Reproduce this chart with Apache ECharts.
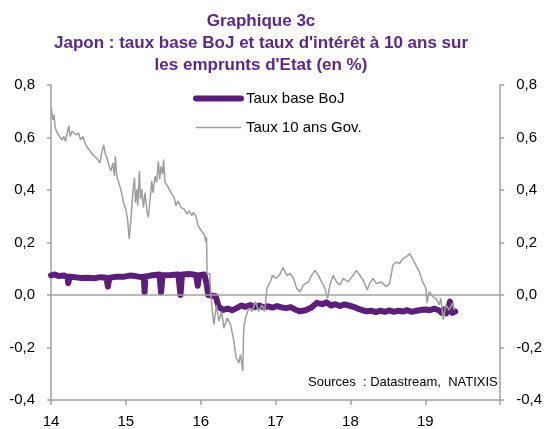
<!DOCTYPE html>
<html>
<head>
<meta charset="utf-8">
<script src="https://cdn.jsdelivr.net/npm/echarts@6/dist/echarts.min.js"></script>
<style>
  html, body { margin: 0; padding: 0; background: #fff; }
  #chart { width: 545px; height: 429px; }
</style>
</head>
<body>
<div id="chart"></div>
<script>
// x values are years (14 = 2014)
var xTicks = [14, 15, 16, 17, 18, 19, 20]

var bojYears = [14.00, 14.05, 14.10, 14.18, 14.22, 14.23, 14.25, 14.32, 14.40, 14.50, 14.58, 14.66, 14.74, 14.76, 14.78,
  14.88, 14.98, 15.05, 15.13, 15.20, 15.24, 15.25, 15.26, 15.35, 15.45, 15.47, 15.49, 15.60, 15.70, 15.73, 15.75,
  15.85, 15.94, 15.96, 15.98, 16.05, 16.08, 16.10, 16.20, 16.24, 16.30, 16.36, 16.42, 16.48, 16.54, 16.60, 16.66,
  16.72, 16.78, 16.84, 16.90, 16.96, 17.02, 17.08, 17.14, 17.20, 17.26, 17.32, 17.40, 17.48, 17.55, 17.62, 17.68,
  17.74, 17.80, 17.86, 17.92, 17.98, 18.04, 18.10, 18.16, 18.22, 18.28, 18.34, 18.40, 18.46, 18.52, 18.58, 18.64,
  18.70, 18.76, 18.82, 18.88, 18.94, 19.00, 19.06, 19.12, 19.18, 19.22, 19.25, 19.28, 19.30, 19.33, 19.36, 19.40]
var bojRates = [0.075, 0.078, 0.072, 0.074, 0.068, 0.045, 0.070, 0.068, 0.065, 0.066, 0.064, 0.068, 0.066, 0.032, 0.066,
  0.070, 0.070, 0.074, 0.072, 0.068, 0.070, 0.010, 0.070, 0.075, 0.078, 0.010, 0.075, 0.076, 0.078, 0.000, 0.078,
  0.080, 0.076, 0.035, 0.075, 0.078, 0.040, 0.000, -0.005, -0.045, -0.057, -0.052, -0.058, -0.050, -0.040, -0.045, -0.038,
  -0.046, -0.040, -0.047, -0.043, -0.048, -0.042, -0.047, -0.050, -0.046, -0.055, -0.062, -0.058, -0.048, -0.030, -0.035, -0.028,
  -0.040, -0.035, -0.042, -0.036, -0.040, -0.045, -0.052, -0.058, -0.062, -0.060, -0.065, -0.060, -0.064, -0.059, -0.064, -0.060,
  -0.063, -0.058, -0.064, -0.060, -0.057, -0.055, -0.058, -0.052, -0.058, -0.068, -0.055, -0.070, -0.060, -0.025, -0.068, -0.063]

var govYears = [14.004, 14.027, 14.040, 14.057, 14.084, 14.115, 14.146, 14.173, 14.195, 14.216, 14.239, 14.256,
  14.279, 14.305, 14.336, 14.368, 14.394, 14.425, 14.455, 14.491, 14.527, 14.558, 14.588, 14.624, 14.654, 14.677,
  14.704, 14.721, 14.747, 14.779, 14.800, 14.827, 14.846, 14.859, 14.876, 14.899, 14.925, 14.943, 14.969, 15.000,
  15.022, 15.045, 15.049, 15.071, 15.093, 15.115, 15.128, 15.146, 15.159, 15.181, 15.195, 15.212, 15.235, 15.257,
  15.284, 15.301, 15.328, 15.345, 15.363, 15.390, 15.411, 15.434, 15.451, 15.470, 15.491, 15.504, 15.523, 15.557,
  15.602, 15.646, 15.669, 15.699, 15.735, 15.779, 15.815, 15.845, 15.881, 15.902, 15.934, 15.965, 15.991, 16.022,
  16.054, 16.067, 16.078, 16.085, 16.120, 16.133, 16.155,
  16.177, 16.208, 16.243, 16.279, 16.310, 16.354, 16.399, 16.443, 16.473, 16.509, 16.532, 16.562, 16.575, 16.598,
  16.642, 16.685, 16.731, 16.774, 16.818, 16.854, 16.885, 16.930, 16.960, 17.004, 17.049, 17.100, 17.150, 17.195,
  17.239, 17.283, 17.328, 17.372, 17.438, 17.482, 17.527, 17.571, 17.615, 17.660, 17.694, 17.726, 17.770, 17.814,
  17.859, 17.903, 17.969, 18.036, 18.079, 18.125, 18.168, 18.225, 18.257, 18.301, 18.345, 18.411, 18.478, 18.523,
  18.567, 18.610, 18.656, 18.699, 18.743, 18.788, 18.832, 18.876, 18.921, 18.965, 19.009, 19.022, 19.054, 19.098,
  19.141, 19.187, 19.208, 19.240, 19.274, 19.319, 19.363, 19.386]
var govRates = [0.711, 0.667, 0.686, 0.636, 0.617, 0.604, 0.591, 0.604, 0.585, 0.617, 0.644, 0.604,
  0.623, 0.629, 0.610, 0.617, 0.591, 0.604, 0.579, 0.560, 0.547, 0.535, 0.528, 0.516, 0.503, 0.541,
  0.572, 0.541, 0.522, 0.490, 0.472, 0.503, 0.453, 0.528, 0.459, 0.434, 0.409, 0.390, 0.352, 0.327,
  0.289, 0.214, 0.208, 0.302, 0.390, 0.447, 0.352, 0.403, 0.340, 0.472, 0.365, 0.403, 0.334, 0.390,
  0.315, 0.296, 0.377, 0.434, 0.390, 0.453, 0.428, 0.509, 0.440, 0.490, 0.459, 0.516, 0.428, 0.415,
  0.390, 0.371, 0.340, 0.358, 0.334, 0.327, 0.308, 0.321, 0.302, 0.315, 0.302, 0.264, 0.270, 0.239,
  0.226, 0.201, 0.220, 0.080, 0.082, 0.013, -0.063,
  -0.113, -0.038, -0.100, -0.063, -0.126, -0.088, -0.113, -0.176, -0.239, -0.258, -0.226, -0.289, -0.126, -0.088,
  -0.050, -0.063, -0.025, -0.063, -0.038, -0.063, 0.025, 0.050, 0.075, 0.063, 0.075, 0.104, 0.075, 0.082,
  0.063, 0.025, 0.013, 0.038, 0.050, 0.075, 0.094, 0.075, 0.050, 0.025, -0.013, 0.038, 0.075, 0.050,
  0.038, 0.063, 0.050, 0.075, 0.094, 0.075, 0.057, 0.019, 0.044, 0.063, 0.044, 0.050, 0.032, 0.044,
  0.113, 0.126, 0.120, 0.138, 0.145, 0.157, 0.138, 0.113, 0.088, 0.050, 0.025, -0.031, 0.013, -0.006,
  -0.013, -0.038, -0.013, -0.094, -0.038, -0.057, -0.031, -0.057]

var seriesNames = ['Taux base BoJ', 'Taux 10 ans Gov.']
var titleText = 'Graphique 3c\nJapon : taux base BoJ et taux d\'intérêt à 10 ans sur\nles emprunts d\'Etat (en %)'
var sourceText = 'Sources  : Datastream,  NATIXIS'

function zip(xs, ys) {
  return xs.map(function (x, i) { return [x, ys[i]] })
}

var purple = '#5b1f7a'
var lineGray = '#9e9e9e'
var axisGray = '#a0a0a0'
var fontFamily = '"Liberation Sans", Arial, sans-serif'

var yAxisBase = {
  type: 'value',
  min: -0.4,
  max: 0.8,
  interval: 0.2,
  axisLine: { show: true, lineStyle: { color: axisGray, width: 1.5 } },
  axisTick: { show: true, length: 4, lineStyle: { color: axisGray, width: 1.5 } },
  axisLabel: {
    color: '#000',
    fontSize: 15,
    fontFamily: fontFamily,
    margin: 16,
    formatter: function (v) { return v.toFixed(1).replace('.', ',') }
  },
  splitLine: { show: false }
}

var chart = echarts.init(document.getElementById('chart'))
chart.setOption({
  animation: false,
  backgroundColor: '#fff',
  title: {
    text: titleText,
    left: 256,
    top: 5,
    textAlign: 'center',
    textStyle: {
      color: '#5b2a86',
      fontSize: 17,
      fontWeight: 'bold',
      fontFamily: fontFamily,
      lineHeight: 22
    }
  },
  legend: {
    orient: 'vertical',
    left: 188,
    top: 86,
    itemWidth: 45,
    itemHeight: 14,
    itemGap: 14,
    itemStyle: { opacity: 0 },
    data: [
      { name: seriesNames[0], lineStyle: { width: 6, cap: 'round' } },
      { name: seriesNames[1], lineStyle: { width: 1.5 } }
    ],
    textStyle: { color: '#000', fontSize: 15, fontFamily: fontFamily }
  },
  graphic: [{
    type: 'text',
    left: 308,
    top: 376,
    style: { text: sourceText, fill: '#000', font: '13px ' + fontFamily }
  }],
  grid: { left: 51, right: 42, top: 85, bottom: 26 },
  xAxis: {
    type: 'value',
    min: 14,
    max: 20,
    interval: 1,
    axisLine: { onZero: false, lineStyle: { color: axisGray, width: 1.5 } },
    axisTick: { length: 5, lineStyle: { color: axisGray, width: 1.5 } },
    axisLabel: {
      color: '#000',
      fontSize: 15,
      fontFamily: fontFamily,
      margin: 14,
      formatter: function (v) { return v === xTicks[xTicks.length - 1] ? '' : String(v) }
    },
    splitLine: { show: false }
  },
  yAxis: [
    Object.assign({}, yAxisBase, { position: 'left' }),
    Object.assign({}, yAxisBase, { position: 'right' })
  ],
  series: [
    {
      name: seriesNames[0],
      type: 'line',
      showSymbol: false,
      symbol: 'none',
      data: zip(bojYears, bojRates),
      lineStyle: { color: purple, width: 6, cap: 'round', join: 'round' },
      itemStyle: { color: purple },
      markLine: {
        silent: true,
        symbol: 'none',
        label: { show: false },
        lineStyle: { color: axisGray, width: 1.5, type: 'solid' },
        data: [{ yAxis: 0 }]
      },
      z: 2
    },
    {
      name: seriesNames[1],
      type: 'line',
      showSymbol: false,
      symbol: 'none',
      data: zip(govYears, govRates),
      lineStyle: { color: lineGray, width: 1.5 },
      itemStyle: { color: lineGray },
      z: 3
    }
  ]
})
</script>
</body>
</html>
